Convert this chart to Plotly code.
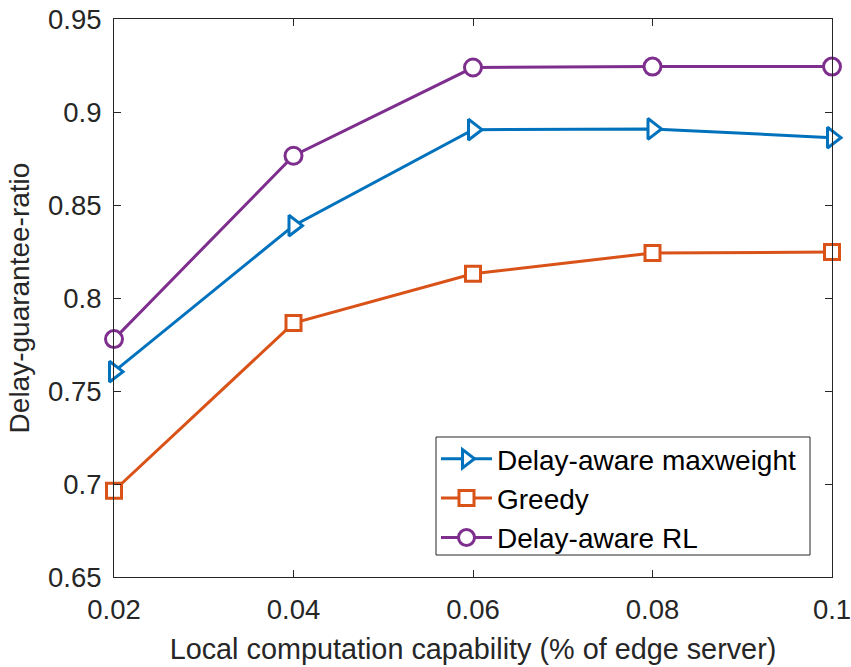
import plotly.graph_objects as go

x_vals = [0.02, 0.04, 0.06, 0.08, 0.1]
maxweight = [0.7604, 0.8389, 0.8905, 0.8909, 0.8862]
greedy = [0.6964, 0.7865, 0.8130, 0.8242, 0.8247]
rl = [0.7779, 0.8765, 0.9239, 0.9244, 0.9244]

names = ["Delay-aware maxweight", "Greedy", "Delay-aware RL"]
colors = ["#0072BD", "#D95319", "#7E2F8E"]
symbols = ["triangle-right", "square", "circle"]
sizes = [18, 15, 17]
series = [maxweight, greedy, rl]

fig = go.Figure()
for name, ys, c, s, sz in zip(names, series, colors, symbols, sizes):
    fig.add_trace(go.Scatter(
        x=x_vals, y=ys, mode="lines+markers", name=name,
        line=dict(color=c, width=3),
        marker=dict(symbol=s, size=sz, color="white", line=dict(color=c, width=3)),
        cliponaxis=False,
    ))

font_family = "Liberation Sans, Arial, Helvetica, sans-serif"
axis_common = dict(
    showgrid=False, zeroline=False, showline=True, linecolor="#262626", linewidth=1,
    mirror="allticks", ticks="inside", ticklen=7, tickcolor="#262626", tickwidth=1,
    tickfont=dict(family=font_family, size=27.5, color="#262626"),
    automargin=False, ticklabeloverflow="allow",
)

# plot area in pixels: x 114..832, y 19..577
L, R, T, B = 114, 832, 19, 577
W, H = R - L, B - T
def px_x(p):
    return (p - L) / W
def px_y(p):
    return (B - p) / H

fig.update_layout(
    width=851, height=667,
    margin=dict(l=L, r=851 - R, t=T, b=667 - B),
    paper_bgcolor="white", plot_bgcolor="white",
    font=dict(family=font_family, color="#262626"),
    xaxis=dict(
        range=[0.02, 0.1], tickvals=[0.02, 0.04, 0.06, 0.08, 0.1],
        ticktext=["0.02", "0.04", "0.06", "0.08", "0.1"],
        title=dict(text="Local computation capability (% of edge server)",
                   font=dict(family=font_family, size=28.8, color="#262626"), standoff=14),
        ticklabelstandoff=8,
        **axis_common,
    ),
    yaxis=dict(
        range=[0.65, 0.95], tickvals=[0.65, 0.7, 0.75, 0.8, 0.85, 0.9, 0.95],
        ticktext=["0.65", "0.7", "0.75", "0.8", "0.85", "0.9", "0.95"],
        title=dict(text="Delay-guarantee-ratio",
                   font=dict(family=font_family, size=28, color="#262626"), standoff=10),
        ticklabelstandoff=6,
        **axis_common,
    ),
    legend=dict(
        x=px_x(436), y=px_y(434), xanchor="left", yanchor="top",
        bgcolor="rgba(0,0,0,0)", borderwidth=0,
        font=dict(family=font_family, size=28, color="black"),
        itemwidth=51, tracegroupgap=0,
    ),
    shapes=[dict(
        type="rect", xref="paper", yref="paper",
        x0=px_x(436), x1=px_x(810), y0=px_y(555), y1=px_y(437),
        fillcolor="white", line=dict(color="#262626", width=1), layer="above",
    )],
    showlegend=True,
)
fig.write_html("out.html")
